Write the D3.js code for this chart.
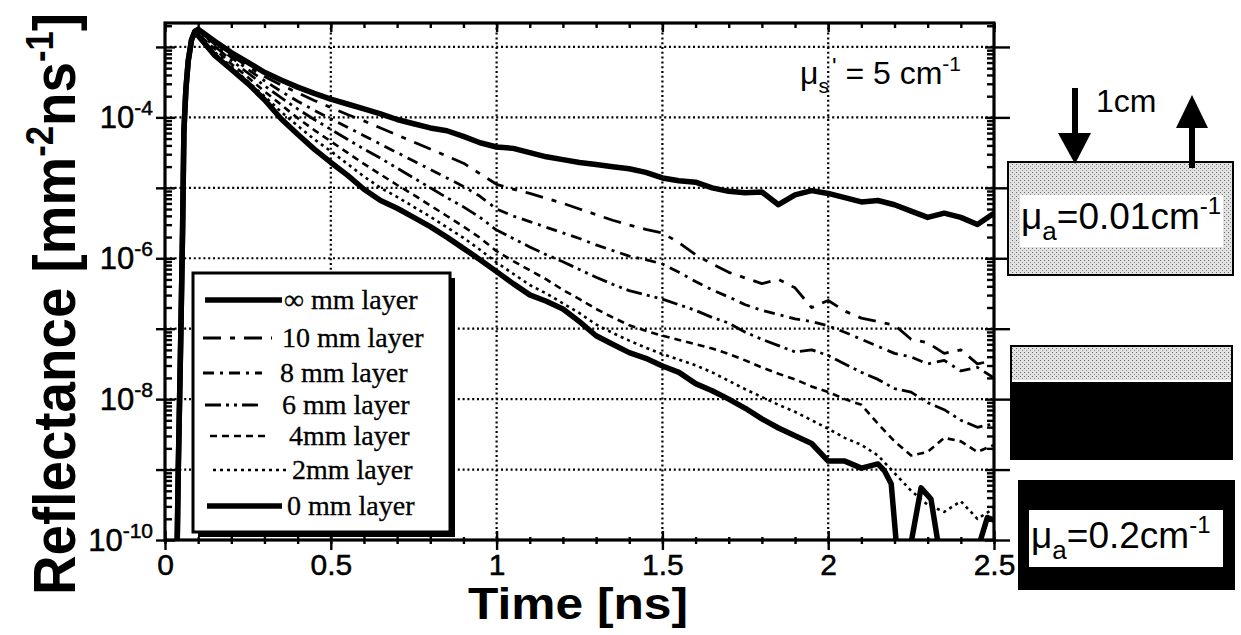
<!DOCTYPE html>
<html>
<meta charset="utf-8">
<style>
  body { margin: 0; background: #fff; }
  svg { display: block; }
  text { font-family: 'Liberation Sans', Arial, Helvetica, sans-serif; fill: #000; }
  .serif { font-family: 'Liberation Serif', 'Times New Roman', serif; }
</style>
<body>
<svg width="1241" height="635"></svg>

<script src="https://d3js.org/d3.v7.min.js"></script>
<script>
    // ---- data (time in ns, reflectance as log10) ----
    let xTicks = [0, 0.5, 1, 1.5, 2, 2.5];
    let xTickLabels = ["0", "0.5", "1", "1.5", "2", "2.5"];
    let yLabelExp = [-4, -6, -8, -10];
    let yGridExp = [-3, -4, -5, -6, -7, -8, -9];
    let seriesNames = ["\u221E mm layer", "10 mm layer", "8 mm layer", "6 mm layer", "4mm layer", "2mm layer", "0 mm layer"];

    // rising edge, shared by every curve
    let riseEdge = [[0.036,-10.3],[0.040,-9.0],[0.044,-8.0],[0.048,-7.0],[0.053,-5.6],[0.057,-4.2],[0.063,-3.6],[0.070,-3.2],[0.080,-2.9],[0.090,-2.78]];

    let decayT = [0.10,0.15,0.20,0.25,0.30,0.35,0.40,0.45,0.50,0.55,
                  0.60,0.65,0.70,0.75,0.80,0.85,0.90,0.95,1.00,1.05,
                  1.10,1.15,1.20,1.25,1.30,1.35,1.40,1.45,1.50,1.55,
                  1.60,1.65,1.70,1.75,1.80,1.85,1.90,1.95,2.00,2.05,
                  2.10,2.15,2.20,2.25,2.30,2.35,2.40,2.45,2.50];

    let logInf = [-2.75,-2.92,-3.08,-3.22,-3.36,-3.47,-3.57,-3.66,-3.74,-3.81,
                  -3.88,-3.95,-4.03,-4.09,-4.15,-4.19,-4.27,-4.36,-4.42,-4.44,
                  -4.50,-4.56,-4.60,-4.64,-4.67,-4.70,-4.73,-4.78,-4.86,-4.90,
                  -4.92,-5.00,-5.05,-5.07,-5.06,-5.24,-5.10,-5.04,-5.08,-5.14,
                  -5.20,-5.18,-5.24,-5.33,-5.42,-5.36,-5.42,-5.52,-5.36];

    let log10mm = [-2.76,-2.94,-3.12,-3.28,-3.42,-3.54,-3.65,-3.76,-3.86,-3.96,
                   -4.05,-4.15,-4.25,-4.35,-4.45,-4.55,-4.65,-4.80,-4.95,-5.02,
                   -5.08,-5.15,-5.22,-5.30,-5.38,-5.46,-5.53,-5.59,-5.64,-5.78,
                   -5.95,-6.08,-6.20,-6.28,-6.36,-6.30,-6.42,-6.70,-6.60,-6.75,
                   -6.85,-6.90,-6.95,-7.15,-7.20,-7.35,-7.30,-7.50,-7.45];

    let log8mm = [-2.77,-2.96,-3.15,-3.32,-3.48,-3.63,-3.77,-3.90,-4.02,-4.14,
                  -4.26,-4.38,-4.50,-4.62,-4.74,-4.86,-4.98,-5.12,-5.30,-5.40,
                  -5.48,-5.56,-5.64,-5.72,-5.81,-5.89,-5.97,-6.02,-6.08,-6.20,
                  -6.33,-6.45,-6.55,-6.66,-6.74,-6.80,-6.86,-6.90,-6.96,-7.05,
                  -7.15,-7.25,-7.35,-7.40,-7.50,-7.45,-7.60,-7.55,-7.70];

    let log6mm = [-2.79,-2.99,-3.19,-3.37,-3.55,-3.72,-3.88,-4.03,-4.17,-4.31,
                  -4.45,-4.58,-4.72,-4.86,-5.00,-5.14,-5.27,-5.42,-5.60,-5.72,
                  -5.84,-5.95,-6.05,-6.16,-6.27,-6.37,-6.46,-6.52,-6.58,-6.66,
                  -6.74,-6.84,-6.92,-7.05,-7.15,-7.24,-7.33,-7.30,-7.38,-7.50,
                  -7.62,-7.72,-7.85,-7.90,-8.05,-8.15,-8.30,-8.40,-8.35];

    let log4mm = [-2.81,-3.03,-3.24,-3.43,-3.63,-3.82,-4.01,-4.18,-4.34,-4.50,
                  -4.66,-4.81,-4.96,-5.10,-5.25,-5.40,-5.55,-5.71,-5.90,-6.04,
                  -6.17,-6.30,-6.45,-6.58,-6.72,-6.84,-6.95,-7.03,-7.10,-7.16,
                  -7.22,-7.28,-7.36,-7.45,-7.55,-7.64,-7.72,-7.82,-7.90,-8.00,
                  -8.08,-8.35,-8.60,-8.80,-8.75,-8.55,-8.60,-8.75,-8.65];

    let log2mm = [-2.83,-3.07,-3.28,-3.49,-3.70,-3.92,-4.12,-4.31,-4.48,-4.66,
                  -4.84,-5.00,-5.13,-5.27,-5.41,-5.56,-5.71,-5.88,-6.06,-6.22,
                  -6.38,-6.50,-6.64,-6.78,-6.94,-7.06,-7.17,-7.27,-7.36,-7.44,
                  -7.52,-7.62,-7.74,-7.86,-7.97,-8.08,-8.18,-8.30,-8.42,-8.55,
                  -8.65,-8.80,-9.05,-9.30,-9.50,-9.60,-9.45,-9.70,-9.55];

    // 0 mm layer: values up to 2.15 ns on decayT, then its noisy tail
    let log0mm = [-2.84,-3.12,-3.32,-3.52,-3.75,-4.02,-4.24,-4.45,-4.64,-4.82,
                  -5.02,-5.18,-5.29,-5.42,-5.55,-5.70,-5.86,-6.02,-6.19,-6.36,
                  -6.52,-6.61,-6.72,-6.90,-7.10,-7.22,-7.34,-7.42,-7.53,-7.62,
                  -7.78,-7.88,-8.00,-8.13,-8.28,-8.41,-8.52,-8.63,-8.88,-8.88,
                  -8.98,-8.92];
    let tail0mm = [[2.17,-9.02],[2.19,-9.2],[2.21,-10.3],[2.24,-10.3],[2.28,-9.26],[2.31,-9.42],[2.34,-10.3],[2.44,-10.3],[2.48,-9.68],[2.50,-9.72]];

    // ---- layout ----
    let plot = {left: 165, right: 994, top: 23, bottom: 540};
    let svg = d3.select("svg");

    let x = d3.scaleLinear().domain([0, 2.5]).range([plot.left, plot.right]);
    let y = d3.scaleLog().domain([1e-10, Math.pow(10, -2.66)]).range([plot.bottom, plot.top]);

    let defs = svg.append("defs");
    defs.append("clipPath").attr("id", "plotClip")
        .append("rect").attr("x", plot.left).attr("y", plot.top)
        .attr("width", plot.right - plot.left).attr("height", plot.bottom - plot.top);
    let pat = defs.append("pattern").attr("id", "stip").attr("width", 4).attr("height", 4)
        .attr("patternUnits", "userSpaceOnUse");
    pat.append("rect").attr("width", 4).attr("height", 4).attr("fill", "#e2e2e2");
    pat.append("rect").attr("x", 0).attr("y", 0).attr("width", 1).attr("height", 1).attr("fill", "#6a6a6a");
    pat.append("rect").attr("x", 2).attr("y", 2).attr("width", 1).attr("height", 1).attr("fill", "#8a8a8a");

    // grid
    let grid = svg.append("g").attr("stroke", "#000").attr("stroke-width", 2.2)
        .attr("stroke-dasharray", "2,2.8");
    grid.selectAll(".vg").data(xTicks.slice(1, 5)).enter().append("line")
        .attr("x1", d => x(d)).attr("x2", d => x(d))
        .attr("y1", plot.top).attr("y2", plot.bottom);
    grid.selectAll(".hg").data(yGridExp).enter().append("line")
        .attr("x1", plot.left).attr("x2", plot.right)
        .attr("y1", d => y(Math.pow(10, d))).attr("y2", d => y(Math.pow(10, d)));

    // curves
    function pts(vals) {
        return riseEdge.concat(vals.map((v, i) => [decayT[i], v]));
    }
    let curves = [
        {name: seriesNames[0], data: pts(logInf), width: 5.5, dash: null},
        {name: seriesNames[1], data: pts(log10mm), width: 2.8, dash: "18,9,5,9"},
        {name: seriesNames[2], data: pts(log8mm), width: 2.8, dash: "11,6,3,6"},
        {name: seriesNames[3], data: pts(log6mm), width: 2.8, dash: "16,5,3,5,3,5"},
        {name: seriesNames[4], data: pts(log4mm), width: 2.6, dash: "7,5"},
        {name: seriesNames[5], data: pts(log2mm), width: 2.6, dash: "3,4"},
        {name: seriesNames[6], data: pts(log0mm).concat(tail0mm), width: 5.5, dash: null}
    ];

    let lineGen = d3.line()
        .x(d => x(d[0]))
        .y(d => y(Math.pow(10, d[1])));

    svg.append("g").attr("clip-path", "url(#plotClip)")
        .selectAll("path").data(curves).enter().append("path")
        .attr("d", d => lineGen(d.data))
        .attr("fill", "none").attr("stroke", "#000")
        .attr("stroke-width", d => d.width)
        .attr("stroke-linejoin", "round")
        .attr("stroke-dasharray", d => d.dash);

    // axes and ticks
    let minorX = d3.range(0, 26).map(i => i / 10);
    let minorY = [];
    for (let e = -10; e <= -3; e++) {
        for (let k = 2; k <= 9; k++) {
            if (k * Math.pow(10, e) < y.domain()[1]) minorY.push(k * Math.pow(10, e));
        }
    }
    let majorY = yGridExp.concat([-10]).map(e => Math.pow(10, e));

    function tickStyle(g) {
        g.select(".domain").remove();
        g.selectAll("line").attr("stroke", "#000").attr("stroke-width", 2.4);
    }

    // bottom
    svg.append("g").attr("transform", "translate(0," + plot.bottom + ")")
        .call(d3.axisBottom(x).tickValues(xTicks).tickFormat((d, i) => xTickLabels[i]).tickSize(10).tickPadding(4))
        .call(tickStyle)
        .selectAll("text").style("font-size", "30px").style("font-family", "'Liberation Sans', Arial, sans-serif")
        .attr("fill", "#000").attr("stroke", "#000").attr("stroke-width", 0.5);
    svg.append("g").attr("transform", "translate(0," + plot.bottom + ")")
        .call(d3.axisTop(x).tickValues(xTicks).tickFormat("").tickSize(9)).call(tickStyle);
    svg.append("g").attr("transform", "translate(0," + plot.bottom + ")")
        .call(d3.axisBottom(x).tickValues(minorX).tickFormat("").tickSize(4)).call(tickStyle);
    svg.append("g").attr("transform", "translate(0," + plot.bottom + ")")
        .call(d3.axisTop(x).tickValues(minorX).tickFormat("").tickSize(3)).call(tickStyle);
    // top
    svg.append("g").attr("transform", "translate(0," + plot.top + ")")
        .call(d3.axisBottom(x).tickValues(xTicks).tickFormat("").tickSize(9)).call(tickStyle);
    svg.append("g").attr("transform", "translate(0," + plot.top + ")")
        .call(d3.axisBottom(x).tickValues(minorX).tickFormat("").tickSize(5)).call(tickStyle);
    // left
    svg.append("g").attr("transform", "translate(" + plot.left + ",0)")
        .call(d3.axisLeft(y).tickValues(majorY).tickFormat("").tickSize(9)).call(tickStyle);
    svg.append("g").attr("transform", "translate(" + plot.left + ",0)")
        .call(d3.axisRight(y).tickValues(majorY).tickFormat("").tickSize(10)).call(tickStyle);
    svg.append("g").attr("transform", "translate(" + plot.left + ",0)")
        .call(d3.axisRight(y).tickValues(minorY).tickFormat("").tickSize(7)).call(tickStyle);
    // right
    svg.append("g").attr("transform", "translate(" + plot.right + ",0)")
        .call(d3.axisRight(y).tickValues(majorY).tickFormat("").tickSize(16)).call(tickStyle);
    svg.append("g").attr("transform", "translate(" + plot.right + ",0)")
        .call(d3.axisLeft(y).tickValues(majorY).tickFormat("").tickSize(9)).call(tickStyle);
    svg.append("g").attr("transform", "translate(" + plot.right + ",0)")
        .call(d3.axisLeft(y).tickValues(minorY).tickFormat("").tickSize(7)).call(tickStyle);

    // frame
    svg.append("rect").attr("x", plot.left).attr("y", plot.top)
        .attr("width", plot.right - plot.left).attr("height", plot.bottom - plot.top)
        .attr("fill", "none").attr("stroke", "#000").attr("stroke-width", 3.2);

    // y tick labels 10^n
    let yl = svg.append("g").selectAll("text").data(yLabelExp).enter().append("text")
        .attr("x", 153).attr("y", d => y(Math.pow(10, d)) + 11)
        .attr("text-anchor", "end").style("font-size", "31px")
        .attr("stroke", "#000").attr("stroke-width", 0.5);
    yl.append("tspan").text("10");
    yl.append("tspan").attr("dy", -13).style("font-size", "21px").text(d => String(d));

    // axis titles
    svg.append("text").attr("x", 578).attr("y", 619).attr("text-anchor", "middle")
        .attr("textLength", 220).attr("lengthAdjust", "spacingAndGlyphs")
        .style("font-size", "45px").style("font-weight", "bold").text("Time [ns]");
    let yt = svg.append("text").attr("transform", "translate(75,304) rotate(-90)")
        .attr("text-anchor", "middle")
        .attr("textLength", 582).attr("lengthAdjust", "spacingAndGlyphs")
        .style("font-size", "60px").style("font-weight", "bold");
    yt.append("tspan").text("Reflectance  [mm");
    yt.append("tspan").attr("dy", -22).style("font-size", "38px").text("-2");
    yt.append("tspan").attr("dy", 22).text("ns");
    yt.append("tspan").attr("dy", -22).style("font-size", "38px").text("-1");
    yt.append("tspan").attr("dy", 22).text("]");

    // mu_s' annotation
    let mus = svg.append("text").attr("x", 800).attr("y", 84).style("font-size", "32px");
    mus.append("tspan").text("\u03BC");
    mus.append("tspan").attr("dy", 9).style("font-size", "21px").text("s");
    mus.append("tspan").attr("dy", -18).attr("dx", 3).style("font-size", "24px").text("'");
    mus.append("tspan").attr("dy", 9).text(" = 5 cm");
    mus.append("tspan").attr("dy", -13).style("font-size", "21px").text("-1");

    // legend
    let legend = svg.append("g");
    legend.append("rect").attr("x", 198).attr("y", 278).attr("width", 257).attr("height", 259).attr("fill", "#000");
    legend.append("rect").attr("x", 193).attr("y", 273).attr("width", 257).attr("height", 259)
        .attr("fill", "#fff").attr("stroke", "#000").attr("stroke-width", 3);
    let legRowY = [300, 338, 373, 405, 436, 470, 506];
    let legTextX = [284, 282, 280, 282, 289, 292, 287];
    let legLine = [[205, 282], [203, 272], [203, 262], [205, 258], [210, 270], [213, 287], [207, 282]];
    curves.forEach(function (c, i) {
        legend.append("line")
            .attr("x1", legLine[i][0]).attr("x2", legLine[i][1])
            .attr("y1", legRowY[i]).attr("y2", legRowY[i])
            .attr("stroke", "#000").attr("stroke-width", c.width)
            .attr("stroke-dasharray", c.dash);
        legend.append("text").attr("class", "serif")
            .attr("x", legTextX[i]).attr("y", legRowY[i] + 9)
            .style("font-size", "28px").attr("stroke", "#000").attr("stroke-width", 0.3)
            .text(c.name);
    });

    // ---- sample sketches on the right ----
    let side = svg.append("g");
    // homogeneous slab
    side.append("rect").attr("x", 1008).attr("y", 162).attr("width", 225).attr("height", 113)
        .attr("fill", "url(#stip)").attr("stroke", "#000").attr("stroke-width", 2);
    side.append("rect").attr("x", 1020).attr("y", 195).attr("width", 203).attr("height", 52).attr("fill", "#fff");
    let t1 = side.append("text").attr("x", 1021).attr("y", 229).style("font-size", "37px");
    t1.append("tspan").text("\u03BC");
    t1.append("tspan").attr("dy", 11).style("font-size", "26px").text("a");
    t1.append("tspan").attr("dy", -11).text("=0.01cm");
    t1.append("tspan").attr("dy", -15).style("font-size", "24px").text("-1");

    // arrows and 1cm
    side.append("rect").attr("x", 1072).attr("y", 88).attr("width", 6).attr("height", 48).attr("fill", "#000");
    side.append("path").attr("d", "M1058,133 L1091,133 L1075,164 Z").attr("fill", "#000");
    side.append("rect").attr("x", 1189).attr("y", 125).attr("width", 6).attr("height", 43).attr("fill", "#000");
    side.append("path").attr("d", "M1176,128 L1208,128 L1192,95 Z").attr("fill", "#000");
    side.append("text").attr("x", 1096).attr("y", 112).style("font-size", "32px").text("1cm");

    // layered slab
    side.append("rect").attr("x", 1010).attr("y", 345).attr("width", 223).attr("height", 115)
        .attr("fill", "#000");
    side.append("rect").attr("x", 1012).attr("y", 347).attr("width", 219).attr("height", 33)
        .attr("fill", "url(#stip)");
    side.append("rect").attr("x", 1012).attr("y", 380).attr("width", 219).attr("height", 2).attr("fill", "#fff");

    // absorbing slab
    side.append("rect").attr("x", 1018).attr("y", 480).attr("width", 217).attr("height", 110).attr("fill", "#000");
    side.append("rect").attr("x", 1029).attr("y", 510).attr("width", 194).attr("height", 57).attr("fill", "#fff");
    let t2 = side.append("text").attr("x", 1031).attr("y", 548).style("font-size", "37px");
    t2.append("tspan").text("\u03BC");
    t2.append("tspan").attr("dy", 11).style("font-size", "26px").text("a");
    t2.append("tspan").attr("dy", -11).text("=0.2cm");
    t2.append("tspan").attr("dy", -15).style("font-size", "24px").text("-1");
</script>
</body>
</html>
